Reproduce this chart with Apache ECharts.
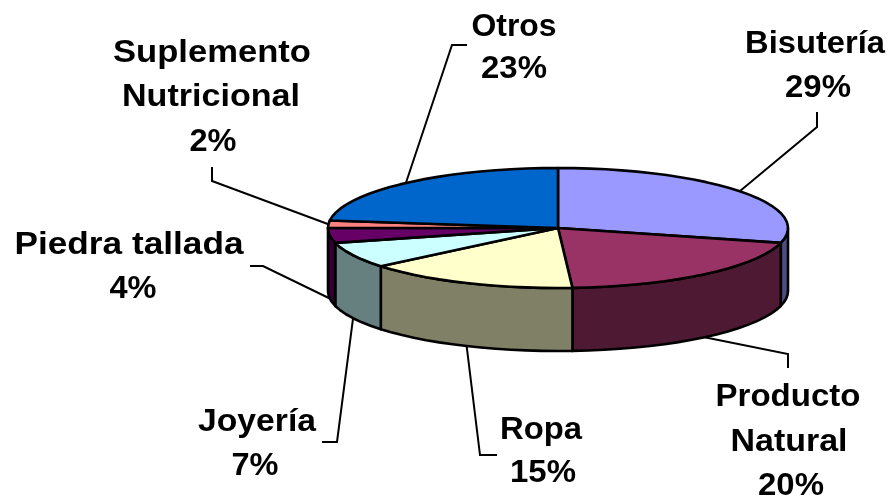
<!DOCTYPE html>
<html>
<head>
<meta charset="utf-8">
<title>Pie</title>
<script src="https://cdn.jsdelivr.net/npm/echarts@6/dist/echarts.min.js"></script>
<style>
html, body { margin: 0; padding: 0; background: #fff; }
#main { width: 888px; height: 499px; }
</style>
</head>
<body>
<div id="main"></div>
<script>
// clockwise from 12 o'clock
const names = ['Bisutería', 'Producto Natural', 'Ropa', 'Joyería', 'Piedra tallada', 'Suplemento Nutricional', 'Otros'];
const values = [29, 20, 15, 7, 4, 2, 23];
const topColors = ['#9999FF', '#993366', '#FFFFCC', '#CCFFFF', '#660066', '#FF8080', '#0066CC'];
const sideColors = ['#4D4D80', '#4D1933', '#808066', '#668080', '#330033', '#804040', '#003366'];

// pie shape in pixels
const cx = 558, cy = 228, rx = 230, ry = 60, depth = 63;
const fontPx = 32;

// label lines [text, center x, center y, width], leader elbow points
const labelLayout = [
    { lines: [['Bisutería', 815, 44, 140], ['29%', 818, 88, 66]], elbow: [[817, 127], [817, 112]] },
    { lines: [['Producto', 788, 397, 145], ['Natural', 789, 442, 117], ['20%', 791, 486, 66]], elbow: [[788, 354], [788, 368]] },
    { lines: [['Ropa', 541, 430, 82], ['15%', 543, 473, 66]], elbow: [[480, 455], [497, 455]] },
    { lines: [['Joyería', 257, 422, 118], ['7%', 255, 466, 47]], elbow: [[337, 442], [322, 442]] },
    { lines: [['Piedra tallada', 129, 245, 229], ['4%', 133, 289, 47]], elbow: [[263, 266], [250, 266]] },
    { lines: [['Suplemento', 212, 53, 198], ['Nutricional', 211, 97, 178], ['2%', 213, 142, 47]], elbow: [[212, 181], [212, 167]] },
    { lines: [['Otros', 514, 27, 85], ['23%', 514, 69, 66]], elbow: [[452, 45], [467, 45]] }
];

const total = values.reduce((a, b) => a + b, 0);
const font = 'bold ' + fontPx + 'px "Liberation Sans", Arial, sans-serif';
const measureCtx = document.createElement('canvas').getContext('2d');
measureCtx.font = font;

function edge(deg, drop) {
    const a = deg * Math.PI / 180;
    return [cx + rx * Math.sin(a), cy - ry * Math.cos(a) + (drop || 0)];
}

function arcPoints(from, to, drop) {
    const pts = [];
    const n = Math.max(1, Math.round(Math.abs(to - from) / 4));
    for (let i = 0; i <= n; i++) {
        pts.push(edge(from + (to - from) * i / n, drop));
    }
    return pts;
}

function sliceRange(i) {
    let before = 0;
    for (let k = 0; k < i; k++) before += values[k];
    return [before / total * 360, (before + values[i]) / total * 360];
}

function renderSide(params) {
    const i = params.dataIndex;
    const r = sliceRange(i);
    const from = Math.max(r[0], 90), to = Math.min(r[1], 270);
    if (from >= to) return { type: 'group', children: [] };
    const pts = arcPoints(from, to, 0).concat(arcPoints(to, from, depth));
    return {
        type: 'polygon',
        shape: { points: pts },
        style: { fill: sideColors[i], stroke: '#000', lineWidth: 2.6, lineJoin: 'round' }
    };
}

function renderTop(params) {
    const i = params.dataIndex;
    const r = sliceRange(i);
    return {
        type: 'polygon',
        shape: { points: [[cx, cy]].concat(arcPoints(r[0], r[1], 0)) },
        style: { fill: topColors[i], stroke: '#000', lineWidth: 2.6, lineJoin: 'round' }
    };
}

function renderLabel(params) {
    const i = params.dataIndex;
    const r = sliceRange(i);
    const mid = (r[0] + r[1]) / 2;
    const front = mid > 90 && mid < 270;
    const layout = labelLayout[i];
    const children = [{
        type: 'polyline',
        shape: { points: [edge(mid, front ? depth : 0)].concat(layout.elbow) },
        style: { fill: null, stroke: '#000', lineWidth: 2 }
    }];
    layout.lines.forEach(function (line) {
        children.push({
            type: 'text',
            x: line[1],
            y: line[2],
            scaleX: line[3] / measureCtx.measureText(line[0]).width,
            style: { text: line[0], font: font, fill: '#000', align: 'center', verticalAlign: 'middle' }
        });
    });
    return { type: 'group', children: children };
}

const myChart = echarts.init(document.getElementById('main'));
const seriesData = names.map((name, i) => ({ name: name, value: values[i] }));

myChart.setOption({
    animation: false,
    backgroundColor: '#fff',
    series: [
        { type: 'custom', coordinateSystem: 'none', z: 1, silent: true, data: seriesData, renderItem: renderSide },
        { type: 'custom', coordinateSystem: 'none', z: 2, silent: true, data: seriesData, renderItem: renderTop },
        { type: 'custom', coordinateSystem: 'none', z: 3, silent: true, data: seriesData, renderItem: renderLabel }
    ]
});
</script>
</body>
</html>
